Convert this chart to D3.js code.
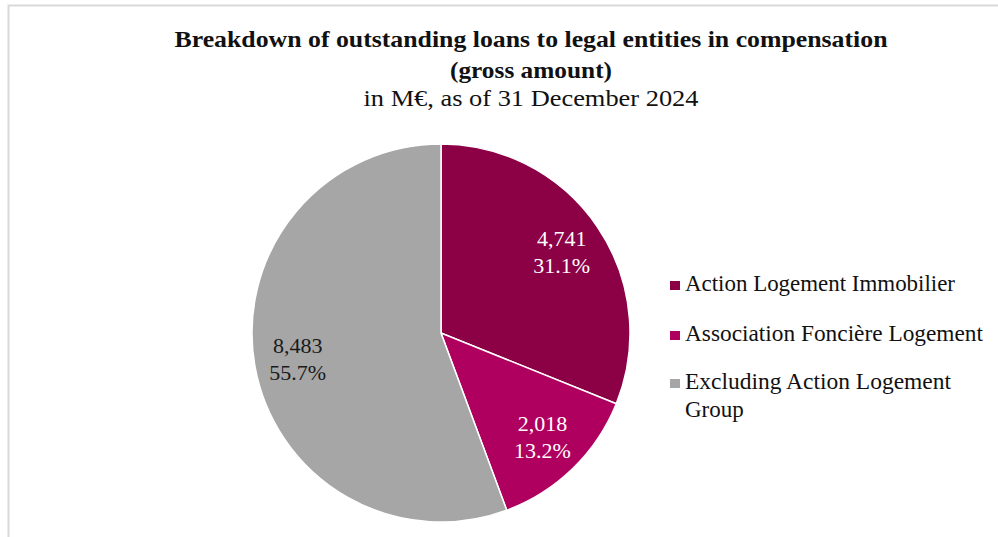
<!DOCTYPE html>
<html><head><meta charset="utf-8">
<script src="https://cdn.jsdelivr.net/npm/d3@7"></script>
<style>body{margin:0;background:#fff}svg{display:block}</style>
</head><body>
<svg id="c" width="998" height="537"></svg>
<script>
const categories = ["Action Logement Immobilier", "Association Foncière Logement", "Excluding Action Logement Group"];
const values = [4741, 2018, 8483];
const valueLabels = ["4,741", "2,018", "8,483"];
const pctLabels = ["31.1%", "13.2%", "55.7%"];
const colors = ["#8c0046", "#b0005f", "#a6a6a6"];
const labelColors = ["#fff", "#fff", "#1a1a1a"];

const svg = d3.select("#c");
const font = "'Liberation Serif','Times New Roman',serif";

// border
svg.append("path").attr("d","M8.5,537 L8.5,5.5 L998,5.5").attr("fill","none").attr("stroke","#d9d9d9").attr("stroke-width",2);

// title
function line(txt, y, bold, len){
  svg.append("text").attr("text-anchor","middle").attr("font-family",font).attr("fill","#111")
    .attr("x",531).attr("y",y).attr("font-size",22.5).attr("font-weight",bold?"bold":"normal")
    .attr("textLength",len).attr("lengthAdjust","spacingAndGlyphs").text(txt);
}
line("Breakdown of outstanding loans to legal entities in compensation", 47, true, 713);
line("(gross amount)", 78, true, 162);
line("in M€, as of 31 December 2024", 106, false, 335);

const cx = 441, cy = 333, r = 189;
const pie = d3.pie().sort(null).value(d=>d)(values);
const arc = d3.arc().innerRadius(0).outerRadius(r);
const g = svg.append("g").attr("transform",`translate(${cx},${cy})`);
g.selectAll("path").data(pie).join("path")
  .attr("d",arc).attr("fill",(d,i)=>colors[i])
  .attr("stroke","#fff").attr("stroke-width",1.5);

const labelArc = d3.arc().innerRadius(r*0.77).outerRadius(r*0.77);
pie.forEach((d,i)=>{
  const [x,y] = labelArc.centroid(d);
  const tx = g.append("text").attr("text-anchor","middle").attr("font-family",font).attr("font-size",22).attr("fill",labelColors[i]);
  tx.append("tspan").attr("x",x).attr("y",y-6).text(valueLabels[i]);
  tx.append("tspan").attr("x",x).attr("y",y+21).text(pctLabels[i]);
});

// legend
const legY = [291, 341, 389];
const legLen = [270, 298, 266];
const leg = svg.append("g");
categories.forEach((c,i)=>{
  leg.append("rect").attr("x",670).attr("y",legY[i]-10).attr("width",10).attr("height",9).attr("fill",colors[i]);
  const tx = leg.append("text").attr("font-family",font).attr("font-size",23).attr("fill","#111").attr("lengthAdjust","spacingAndGlyphs");
  if(i===2){
    tx.attr("x",685).attr("y",legY[i]).attr("textLength",legLen[i]).text("Excluding Action Logement");
    leg.append("text").attr("font-family",font).attr("font-size",23).attr("fill","#111")
      .attr("x",685).attr("y",legY[i]+28).text("Group");
  } else tx.attr("x",685).attr("y",legY[i]).attr("textLength",legLen[i]).text(c);
});
</script>
</body></html>
